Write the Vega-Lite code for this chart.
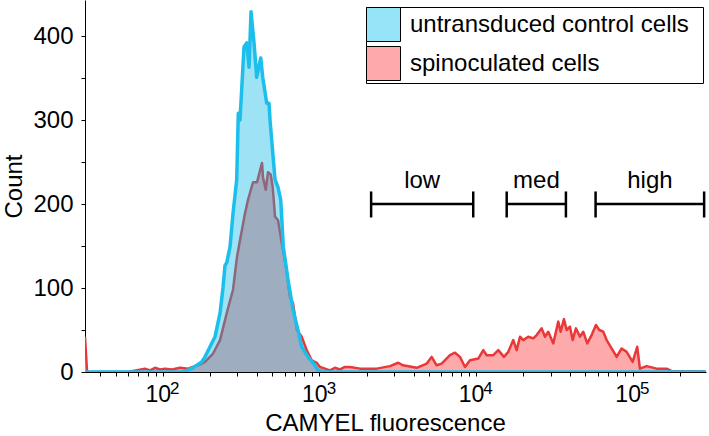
{
  "$schema": "https://vega.github.io/schema/vega-lite/v6.json",
  "width": 621,
  "height": 372,
  "autosize": {"type": "none"},
  "padding": {"left": 85, "top": 0, "right": 3, "bottom": 64},
  "background": "white",
  "config": {
    "font": "Liberation Sans",
    "view": {"stroke": null},
    "axis": {
      "grid": false,
      "labelColor": "black",
      "titleColor": "black",
      "domainColor": "black",
      "tickColor": "black",
      "labelFontSize": 24,
      "titleFontSize": 24,
      "titleFontWeight": "normal",
      "labelOverlap": false,
      "labelFlush": false
    }
  },
  "datasets": {
    "control": [
      {"fluorescence": 31.9, "count": 0},
      {"fluorescence": 130, "count": 0},
      {"fluorescence": 140.8, "count": 1},
      {"fluorescence": 156.1, "count": 5},
      {"fluorescence": 177.4, "count": 12},
      {"fluorescence": 186.2, "count": 18},
      {"fluorescence": 200.4, "count": 30},
      {"fluorescence": 215.7, "count": 42},
      {"fluorescence": 232.2, "count": 70},
      {"fluorescence": 242.7, "count": 101},
      {"fluorescence": 249.8, "count": 127},
      {"fluorescence": 256.1, "count": 130},
      {"fluorescence": 268.9, "count": 149},
      {"fluorescence": 281.0, "count": 189},
      {"fluorescence": 296.7, "count": 229},
      {"fluorescence": 303.7, "count": 308},
      {"fluorescence": 311.4, "count": 300},
      {"fluorescence": 330.3, "count": 387},
      {"fluorescence": 343.7, "count": 392},
      {"fluorescence": 355.6, "count": 363},
      {"fluorescence": 366.2, "count": 429},
      {"fluorescence": 382.7, "count": 392},
      {"fluorescence": 398.1, "count": 351},
      {"fluorescence": 422.3, "count": 374},
      {"fluorescence": 434.9, "count": 351},
      {"fluorescence": 461.2, "count": 320},
      {"fluorescence": 477.1, "count": 320},
      {"fluorescence": 484.2, "count": 300},
      {"fluorescence": 521.1, "count": 229},
      {"fluorescence": 544.5, "count": 220},
      {"fluorescence": 566.5, "count": 205},
      {"fluorescence": 588.7, "count": 149},
      {"fluorescence": 630.8, "count": 110},
      {"fluorescence": 678.8, "count": 74},
      {"fluorescence": 730.5, "count": 50},
      {"fluorescence": 771.3, "count": 30},
      {"fluorescence": 846.1, "count": 18},
      {"fluorescence": 937.8, "count": 8},
      {"fluorescence": 980.1, "count": 2},
      {"fluorescence": 1086, "count": 0},
      {"fluorescence": 294000, "count": 0}
    ],
    "spin": [
      {"fluorescence": 31.9, "count": 42},
      {"fluorescence": 32.9, "count": 0},
      {"fluorescence": 60, "count": 0},
      {"fluorescence": 68.5, "count": 2},
      {"fluorescence": 77.1, "count": 4},
      {"fluorescence": 83.0, "count": 2},
      {"fluorescence": 89.3, "count": 5},
      {"fluorescence": 96.1, "count": 3},
      {"fluorescence": 103.4, "count": 4},
      {"fluorescence": 114.7, "count": 3},
      {"fluorescence": 129.0, "count": 5},
      {"fluorescence": 145.0, "count": 4},
      {"fluorescence": 160.8, "count": 7},
      {"fluorescence": 173.0, "count": 9},
      {"fluorescence": 186.2, "count": 12},
      {"fluorescence": 209.5, "count": 22},
      {"fluorescence": 232.2, "count": 38},
      {"fluorescence": 256.1, "count": 70},
      {"fluorescence": 281.0, "count": 98},
      {"fluorescence": 298.0, "count": 137},
      {"fluorescence": 311.4, "count": 157},
      {"fluorescence": 335.2, "count": 189},
      {"fluorescence": 350.4, "count": 205},
      {"fluorescence": 377.1, "count": 226},
      {"fluorescence": 399.9, "count": 226},
      {"fluorescence": 418.0, "count": 240},
      {"fluorescence": 430.4, "count": 249},
      {"fluorescence": 436.8, "count": 232},
      {"fluorescence": 454.5, "count": 217},
      {"fluorescence": 470.1, "count": 238},
      {"fluorescence": 489.2, "count": 235},
      {"fluorescence": 503.8, "count": 220},
      {"fluorescence": 521.1, "count": 185},
      {"fluorescence": 544.5, "count": 181},
      {"fluorescence": 575.0, "count": 154},
      {"fluorescence": 612.4, "count": 125},
      {"fluorescence": 649.6, "count": 89},
      {"fluorescence": 678.8, "count": 82},
      {"fluorescence": 719.8, "count": 50},
      {"fluorescence": 771.3, "count": 42},
      {"fluorescence": 830.1, "count": 26},
      {"fluorescence": 893.5, "count": 14},
      {"fluorescence": 961.6, "count": 11},
      {"fluorescence": 1009, "count": 6},
      {"fluorescence": 1086, "count": 4},
      {"fluorescence": 1169, "count": 2},
      {"fluorescence": 1258, "count": 5},
      {"fluorescence": 1354, "count": 3},
      {"fluorescence": 1457, "count": 6},
      {"fluorescence": 1569, "count": 6},
      {"fluorescence": 1817, "count": 4},
      {"fluorescence": 2323, "count": 4},
      {"fluorescence": 2824, "count": 7},
      {"fluorescence": 3190, "count": 11},
      {"fluorescence": 3419, "count": 8},
      {"fluorescence": 4181, "count": 5},
      {"fluorescence": 4843, "count": 10},
      {"fluorescence": 5212, "count": 18},
      {"fluorescence": 5609, "count": 8},
      {"fluorescence": 6037, "count": 10},
      {"fluorescence": 6821, "count": 20},
      {"fluorescence": 7340, "count": 23},
      {"fluorescence": 7902, "count": 18},
      {"fluorescence": 8502, "count": 6},
      {"fluorescence": 9152, "count": 14},
      {"fluorescence": 10340, "count": 16},
      {"fluorescence": 11130, "count": 26},
      {"fluorescence": 11700, "count": 20},
      {"fluorescence": 12890, "count": 20},
      {"fluorescence": 13880, "count": 26},
      {"fluorescence": 15080, "count": 18},
      {"fluorescence": 16070, "count": 24},
      {"fluorescence": 17290, "count": 38},
      {"fluorescence": 18180, "count": 26},
      {"fluorescence": 19090, "count": 42},
      {"fluorescence": 20030, "count": 38},
      {"fluorescence": 21560, "count": 42},
      {"fluorescence": 23210, "count": 40},
      {"fluorescence": 24390, "count": 44},
      {"fluorescence": 26250, "count": 52},
      {"fluorescence": 27560, "count": 42},
      {"fluorescence": 28930, "count": 48},
      {"fluorescence": 31130, "count": 34},
      {"fluorescence": 33510, "count": 60},
      {"fluorescence": 34710, "count": 48},
      {"fluorescence": 36430, "count": 63},
      {"fluorescence": 37910, "count": 50},
      {"fluorescence": 39790, "count": 54},
      {"fluorescence": 41400, "count": 38},
      {"fluorescence": 43460, "count": 52},
      {"fluorescence": 46080, "count": 42},
      {"fluorescence": 48370, "count": 48},
      {"fluorescence": 51310, "count": 34},
      {"fluorescence": 54730, "count": 44},
      {"fluorescence": 58320, "count": 56},
      {"fluorescence": 61220, "count": 50},
      {"fluorescence": 64930, "count": 48},
      {"fluorescence": 68250, "count": 38},
      {"fluorescence": 73420, "count": 28},
      {"fluorescence": 79030, "count": 18},
      {"fluorescence": 85070, "count": 28},
      {"fluorescence": 91540, "count": 24},
      {"fluorescence": 100000, "count": 12},
      {"fluorescence": 107000, "count": 30},
      {"fluorescence": 111300, "count": 4},
      {"fluorescence": 122900, "count": 7},
      {"fluorescence": 142300, "count": 4},
      {"fluorescence": 164800, "count": 4},
      {"fluorescence": 177400, "count": 1},
      {"fluorescence": 209500, "count": 1},
      {"fluorescence": 281000, "count": 1},
      {"fluorescence": 294000, "count": 0}
    ],
    "gates": [
      {"gate": "low", "lo": 2140, "hi": 9600, "mid": 4530},
      {"gate": "med", "lo": 15700, "hi": 37500, "mid": 24300},
      {"gate": "high", "lo": 58000, "hi": 286000, "mid": 128900}
    ],
    "decades": [
      {"decade": 100, "exponent": "2"},
      {"decade": 1000, "exponent": "3"},
      {"decade": 10000, "exponent": "4"},
      {"decade": 100000, "exponent": "5"}
    ]
  },
  "layer": [
    {
      "data": {"name": "spin"},
      "mark": {"type": "area", "clip": true},
      "encoding": {
        "x": {
          "field": "fluorescence",
          "type": "quantitative",
          "scale": {"type": "log", "domain": [31.9, 294000], "nice": false},
          "axis": {
            "title": "CAMYEL fluorescence",
            "titleX": 300,
            "titlePadding": 5,
            "values": [40, 50, 60, 70, 80, 90, 100, 200, 300, 400, 500, 600, 700, 800, 900, 1000, 2000, 3000, 4000, 5000, 6000, 7000, 8000, 9000, 10000, 20000, 30000, 40000, 50000, 60000, 70000, 80000, 90000, 100000, 200000],
            "labelExpr": "indexof([100, 1000, 10000, 100000], datum.value) >= 0 ? '10' : ''",
            "labelFontSize": 23,
            "labelOffset": -5,
            "labelPadding": 7,
            "tickSize": 4
          }
        },
        "y": {
          "field": "count",
          "type": "quantitative",
          "scale": {"domain": [0, 443], "nice": false},
          "axis": {
            "title": "Count",
            "titlePadding": 6,
            "values": [0, 25, 50, 75, 100, 125, 150, 175, 200, 225, 250, 275, 300, 325, 350, 375, 400, 425],
            "labelExpr": "datum.value % 100 == 0 ? datum.label : ''",
            "labelPadding": 8,
            "tickSize": 4
          }
        },
        "color": {
          "datum": "spinoculated cells",
          "type": "nominal",
          "scale": {"domain": ["untransduced control cells", "spinoculated cells"], "range": ["#96e4f8", "#ffaaaa"]},
          "legend": {
            "title": null,
            "orient": "none",
            "legendX": 281,
            "legendY": 7,
            "padding": 0,
            "strokeColor": "black",
            "symbolType": "square",
            "symbolSize": 1156,
            "symbolStrokeColor": "black",
            "symbolStrokeWidth": 1,
            "rowPadding": 0,
            "labelFontSize": 24,
            "labelColor": "black",
            "labelOffset": 9,
            "labelLimit": 500,
            "labelExpr": "datum.label + '\u00a0\u00a0\u200b'"
          }
        }
      }
    },
    {
      "data": {"name": "spin"},
      "mark": {"type": "line", "clip": true, "color": "#e8383a", "strokeWidth": 2.5, "strokeJoin": "round"},
      "encoding": {
        "x": {"field": "fluorescence", "type": "quantitative"},
        "y": {"field": "count", "type": "quantitative"}
      }
    },
    {
      "data": {"name": "control"},
      "mark": {"type": "area", "clip": true, "fill": "#00b4e6", "fillOpacity": 0.38},
      "encoding": {
        "x": {"field": "fluorescence", "type": "quantitative"},
        "y": {"field": "count", "type": "quantitative"}
      }
    },
    {
      "data": {"name": "control"},
      "mark": {"type": "line", "clip": true, "color": "#1cbfec", "strokeWidth": 3.5, "strokeJoin": "round"},
      "encoding": {
        "x": {"field": "fluorescence", "type": "quantitative"},
        "y": {"field": "count", "type": "quantitative"}
      }
    },
    {
      "data": {"name": "gates"},
      "mark": {"type": "rule", "color": "black", "strokeWidth": 2.5},
      "encoding": {
        "x": {"field": "lo", "type": "quantitative"},
        "x2": {"field": "hi"},
        "y": {"datum": 200, "type": "quantitative"}
      }
    },
    {
      "data": {"name": "gates"},
      "transform": [{"fold": ["lo", "hi"], "as": ["end", "pos"]}],
      "mark": {"type": "rule", "color": "black", "strokeWidth": 2.5},
      "encoding": {
        "x": {"field": "pos", "type": "quantitative"},
        "y": {"datum": 184, "type": "quantitative"},
        "y2": {"datum": 215}
      }
    },
    {
      "data": {"name": "gates"},
      "mark": {"type": "text", "fontSize": 24, "color": "black", "align": "center", "baseline": "alphabetic"},
      "encoding": {
        "x": {"field": "mid", "type": "quantitative"},
        "y": {"datum": 219, "type": "quantitative"},
        "text": {"field": "gate"}
      }
    },
    {
      "data": {"name": "decades"},
      "mark": {"type": "text", "fontSize": 17, "color": "black", "align": "center", "baseline": "top", "dx": 12},
      "encoding": {
        "x": {"field": "decade", "type": "quantitative"},
        "y": {"datum": -11, "type": "quantitative"},
        "text": {"field": "exponent"}
      }
    }
  ]
}
